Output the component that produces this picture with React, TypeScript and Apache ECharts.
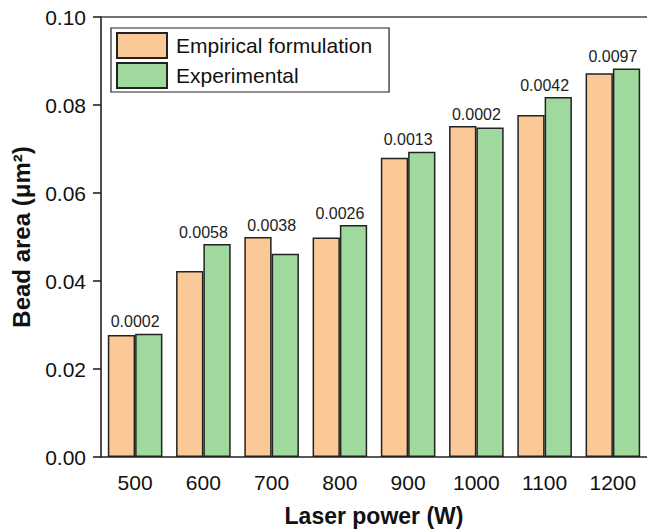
import React, { useEffect, useRef } from "react";
import * as echarts from "echarts";

const categories = ["500", "600", "700", "800", "900", "1000", "1100", "1200"];
const empirical = [0.0277, 0.0423, 0.05, 0.0499, 0.068, 0.0752, 0.0777, 0.0872];
const experimental = [0.028, 0.0484, 0.0462, 0.0527, 0.0694, 0.0749, 0.0818, 0.0883];
const diffLabels = ["0.0002", "0.0058", "0.0038", "0.0026", "0.0013", "0.0002", "0.0042", "0.0097"];
const yTicks = [0, 0.02, 0.04, 0.06, 0.08, 0.1];

const FONT = "Liberation Sans, Arial, sans-serif";
const AXIS_COLOR = "#222";

export default function App() {
  const ref = useRef<HTMLDivElement>(null);
  useEffect(() => {
    if (!ref.current) return;
    const chart = echarts.init(ref.current, null, { renderer: "svg" });
    const labelData = categories.map((_, i) => [i, Math.max(empirical[i], experimental[i])]);
    chart.setOption({
      animation: false,
      backgroundColor: "#fff",
      textStyle: { fontFamily: FONT },
      grid: { left: 101, top: 17, right: 0, bottom: 75, containLabel: false },
      legend: {
        orient: "vertical",
        left: 111,
        top: 28,
        icon: "rect",
        itemWidth: 50,
        itemHeight: 25,
        itemGap: 3,
        padding: [4, 17, 3, 5],
        borderColor: "#222",
        borderWidth: 1.2,
        data: ["Empirical formulation", "Experimental"],
        textStyle: { fontSize: 21, color: "#111", fontFamily: FONT, padding: [0, 0, 0, 4] },
      },
      xAxis: [
        {
          type: "category",
          data: categories,
          position: "bottom",
          name: "Laser power (W)",
          nameLocation: "middle",
          nameGap: 47,
          nameTextStyle: { fontSize: 23, fontWeight: "bold", color: "#111", fontFamily: FONT },
          axisLine: { lineStyle: { color: AXIS_COLOR, width: 1.6 } },
          axisTick: { alignWithLabel: true, length: 9, lineStyle: { color: AXIS_COLOR, width: 1.6 } },
          axisLabel: { fontSize: 21, color: "#111", margin: 15, fontFamily: FONT },
        },
        {
          type: "category",
          data: categories,
          position: "top",
          axisLine: { lineStyle: { color: "#444", width: 1.6 } },
          axisTick: { show: false },
          axisLabel: { show: false },
        },
      ],
      yAxis: {
        type: "value",
        min: 0,
        max: 0.1,
        interval: 0.02,
        name: "Bead area (μm²)",
        nameLocation: "middle",
        nameGap: 68,
        nameTextStyle: { fontSize: 24, fontWeight: "bold", color: "#111", fontFamily: FONT },
        axisLine: { show: true, lineStyle: { color: AXIS_COLOR, width: 1.6 } },
        axisTick: { show: true, length: 8, lineStyle: { color: AXIS_COLOR, width: 1.6 } },
        splitLine: { show: false },
        axisLabel: {
          fontSize: 21,
          color: "#111",
          margin: 15,
          fontFamily: FONT,
          formatter: (v: number) => (yTicks.some((t) => Math.abs(t - v) < 1e-9) ? v.toFixed(2) : ""),
        },
      },
      series: [
        {
          name: "Empirical formulation",
          type: "bar",
          data: empirical,
          barGap: "0%",
          barCategoryGap: "20%",
          itemStyle: { color: "#FBC897", borderColor: "#222", borderWidth: 1.5 },
        },
        {
          name: "Experimental",
          type: "bar",
          data: experimental,
          barGap: "0%",
          barCategoryGap: "20%",
          itemStyle: { color: "#9FD99D", borderColor: "#222", borderWidth: 1.5 },
        },
        {
          type: "custom",
          data: labelData,
          silent: true,
          z: 10,
          renderItem: (params: any, api: any) => {
            const idx = api.value(0);
            const pt = api.coord([idx, api.value(1)]);
            return {
              type: "text",
              x: pt[0],
              y: pt[1] - 4,
              style: {
                text: diffLabels[idx],
                align: "center",
                verticalAlign: "bottom",
                fontSize: 16,
                fontFamily: FONT,
                fill: "#222",
              },
            };
          },
        },
      ],
    });
    return () => chart.dispose();
  }, []);
  return (
    <div
      ref={ref}
      style={{ position: "fixed", left: 0, top: 0, width: 647, height: 532 }}
    />
  );
}
